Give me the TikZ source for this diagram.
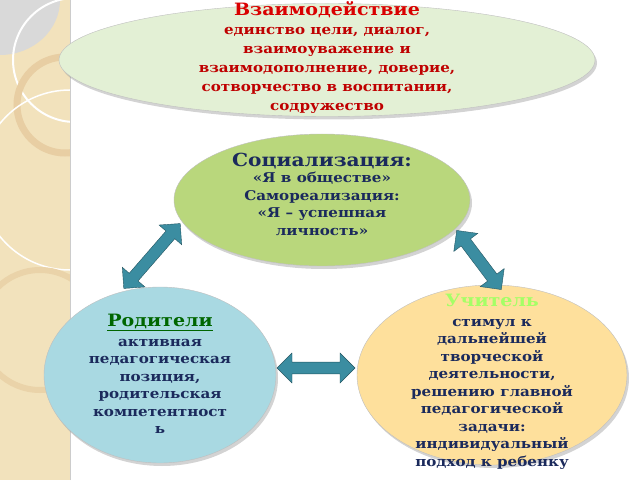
\documentclass[tikz,border=0pt]{standalone}
\usepackage{fontspec}
\setmainfont{DejaVu Serif}[FakeStretch=1.12]
\usetikzlibrary{shapes.arrows,shapes.geometric,shadows}
\definecolor{strip}{HTML}{F2E2BC}
\definecolor{topfill}{HTML}{E3F0D5}
\definecolor{midfill}{HTML}{B9D77C}
\definecolor{leftfill}{HTML}{A9D9E2}
\definecolor{rightfill}{HTML}{FEE09C}
\definecolor{arrowfill}{HTML}{3B8DA1}
\definecolor{navy}{HTML}{1B2A5C}
\tikzset{
  blob/.style={ellipse,draw=black!25,drop shadow={opacity=0.35,shadow xshift=2pt,shadow yshift=-3pt}},
  body/.style={font=\bfseries\fontsize{13.5}{17.5}\selectfont,align=center,text=navy},
  link/.style={shape=double arrow,fill=arrowfill,draw=arrowfill!60!black,
    double arrow head extend=5pt,minimum width=30pt,inner sep=3pt}
}
\begin{document}
\begin{tikzpicture}[x=1pt,y=1pt]
  \useasboundingbox (0,0) rectangle (640,480);
  % left decoration
  \begin{scope}
    \clip (0,0) rectangle (70,480);
    \fill[strip] (0,0) rectangle (70,480);
    \fill[black!15] (0,480) -- (60,480) arc (0:-90:60 and 55) -- cycle;
    \draw[white,line width=2pt] (75,420) circle (62);
    \draw[strip!80!brown,line width=7pt] (65,375) circle (48);
    \draw[white,line width=1.5pt] (70,300) circle (90);
    \draw[strip!85!brown,line width=6pt] (40,150) circle (60);
  \end{scope}
  \draw[black!20] (70,0) -- (70,480);
  % ellipses
  \node[blob,fill=topfill,minimum width=536pt,minimum height=113pt] (inter) at (327,420) {};
  \node[body,font=\bfseries\fontsize{13.5}{19}\selectfont] at (327,422) {%
    {\color{red!85!black}\fontsize{17}{18}\selectfont Взаимодействие}\\
    {\color{red!75!black}единство цели, диалог,}\\
    {\color{red!75!black}взаимоуважение и}\\
    {\color{red!75!black}взаимодополнение, доверие,}\\
    {\color{red!75!black}сотворчество в воспитании,}\\
    {\color{red!75!black}содружество}};
  \node[blob,fill=midfill,minimum width=296pt,minimum height=132pt] (social) at (322,280) {};
  \node[body] at (322,286) {%
    {\fontsize{18}{20}\selectfont Социализация:}\\[-1pt]
    «Я в обществе»\\ Самореализация:\\ «Я – успешная\\ личность»};
  \node[blob,fill=leftfill,minimum width=232pt,minimum height=176pt] (parents) at (160,105) {};
  \node[body] at (160,106) {%
    {\color{green!40!black}\fontsize{17}{19}\selectfont\underline{Родители}}\\[2pt]
    активная\\ педагогическая\\ позиция,\\ родительская\\ компетентност\\ ь};
  \node[blob,fill=rightfill,minimum width=270pt,minimum height=180pt] (teacher) at (492,105) {};
  \node[body] at (492,98) {%
    {\color{green!45!lime!60!white}\fontsize{17}{19}\selectfont Учитель}\\[2pt]
    стимул к\\ дальнейшей\\ творческой\\ деятельности,\\ решению главной\\ педагогической\\ задачи:\\ индивидуальный\\ подход к ребенку};
  % connectors
  \node[link,minimum height=86pt,rotate=49] (lnk1) at (152,224) {};
  \node[link,minimum height=74pt,rotate=-53] (lnk2) at (479,220) {};
  \node[link,minimum height=78pt] (lnk3) at (316,112) {};
\end{tikzpicture}
\end{document}
